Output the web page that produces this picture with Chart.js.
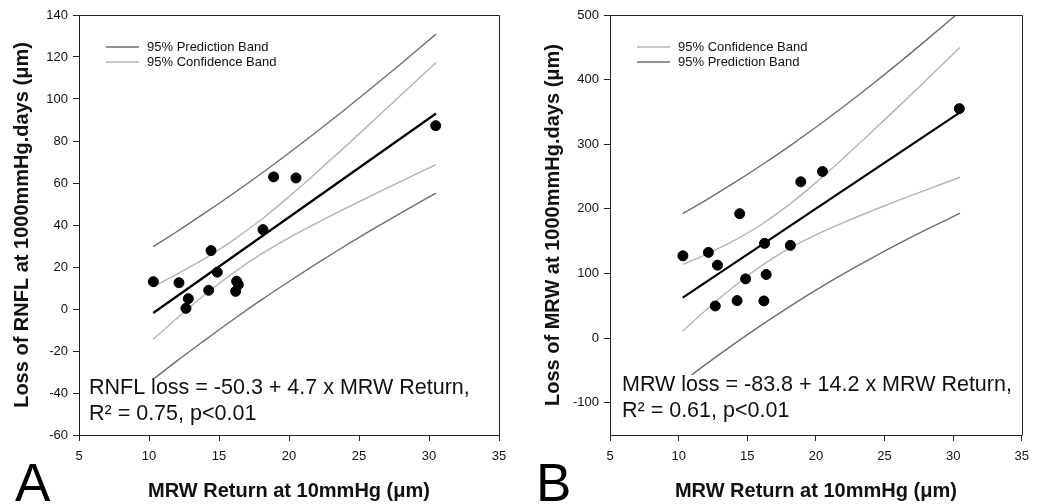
<!DOCTYPE html>
<html>
<head>
<meta charset="utf-8">
<title>RNFL and MRW loss vs MRW return</title>
<script src="https://cdn.jsdelivr.net/npm/chart.js@4/dist/chart.umd.min.js"></script>
<style>
  html, body { margin: 0; padding: 0; background: #fff; overflow: hidden; }
  #wrap { position: relative; width: 1037px; height: 504px; }
  #wrap canvas { position: absolute; left: 0; top: 0; }
</style>
</head>
<body>
<div id="wrap">
  <canvas id="chartA" width="1037" height="504"></canvas>
  <canvas id="chartB" width="1037" height="504"></canvas>
</div>
<script>
// panel A: RNFL loss against MRW return
const mrwReturnA = [10.31, 12.14, 12.81, 12.64, 14.43, 14.88, 14.26, 16.26, 16.38, 16.19, 18.14, 18.9, 20.5, 30.48];
const rnflLoss = [13.0, 12.5, 4.9, 0.3, 27.8, 17.5, 8.9, 13.2, 11.6, 8.4, 37.8, 62.9, 62.4, 87.3];

// panel B: MRW loss against MRW return
const mrwReturnB = [10.31, 12.17, 12.83, 12.67, 14.45, 14.88, 14.26, 16.26, 16.38, 16.21, 18.14, 18.9, 20.48, 30.45];
const mrwLoss = [127.3, 132.6, 112.9, 49.7, 192.5, 91.6, 58.0, 146.6, 98.4, 57.5, 143.5, 241.8, 257.8, 355.1];

// regression lines (end points)
const fitX = [10.3, 30.5];
const rnflFit = [-1.9, 93.1];
const mrwFit = [62.5, 349.3];

// 95% bands, read at these x positions
const bandX = [10.3, 12, 14, 16, 18, 20, 22, 24, 26, 28, 30.5];
const rnflConfUpper = [10.6, 16.6, 24.1, 32.7, 42.5, 53.5, 65.2, 77.2, 89.5, 101.9, 117.4];
const rnflConfLower = [-14.4, -4.4, 6.9, 17.1, 26.1, 33.9, 41.0, 47.8, 54.3, 60.8, 68.7];
const rnflPredUpper = [29.7, 36.9, 45.8, 54.9, 64.4, 74.3, 84.5, 95.0, 105.8, 116.8, 130.9];
const rnflPredLower = [-33.5, -24.7, -14.8, -5.1, 4.2, 13.1, 21.7, 30.0, 38.0, 45.8, 55.2];
const mrwConfUpper = [113.9, 129.7, 150.5, 175.4, 205.7, 240.6, 278.4, 317.7, 357.8, 398.5, 449.7];
const mrwConfLower = [11.0, 43.5, 79.5, 111.4, 137.9, 159.8, 178.8, 196.3, 213.0, 229.1, 248.9];
const mrwPredUpper = [192.6, 213.6, 239.7, 267.1, 296.0, 326.3, 358.0, 391.0, 425.1, 460.3, 505.4];
const mrwPredLower = [-67.6, -40.4, -9.7, 19.7, 47.6, 74.1, 99.2, 123.0, 145.7, 167.3, 193.2];

// axis ticks
const xTicks = [5, 10, 15, 20, 25, 30, 35];
const yTicksA = [-60, -40, -20, 0, 20, 40, 60, 80, 100, 120, 140];
const yTicksB = [-100, 0, 100, 200, 300, 400, 500];

const FONT = "'Liberation Sans', Arial, Helvetica, sans-serif";
const INK = '#222';
const PRED_COLOR = '#6e6e6e';
const CONF_COLOR = '#b4b4b4';

function pts(xs, ys) {
  return xs.map(function (x, i) { return { x: x, y: ys[i] }; });
}

function curve(xs, ys, color, width) {
  return {
    data: pts(xs, ys),
    showLine: true,
    borderColor: color,
    borderWidth: width,
    pointRadius: 0,
    cubicInterpolationMode: 'monotone',
    fill: false
  };
}

/*
 * Decorations SigmaPlot puts on each panel: box frame, inline legend,
 * regression equation on a white patch, and the panel letter.
 */
const panelDecor = {
  id: 'panelDecor',
  afterDatasetsDraw: function (chart, args, opts) {
    const ctx = chart.ctx;
    const area = chart.chartArea;
    ctx.save();

    // equation text with white background hiding the band lines
    ctx.font = '21.5px ' + FONT;
    const w = Math.max.apply(null, opts.eq.map(function (t) { return ctx.measureText(t).width; }));
    ctx.fillStyle = '#fff';
    ctx.fillRect(opts.eqX - 3, opts.eqY - 16, w + 6, opts.eqGap + 22);
    ctx.fillStyle = '#111';
    ctx.textBaseline = 'alphabetic';
    ctx.textAlign = 'left';
    opts.eq.forEach(function (t, i) {
      ctx.fillText(t, opts.eqX, opts.eqY + i * opts.eqGap);
    });

    // legend
    ctx.font = '13px ' + FONT;
    ctx.textBaseline = 'middle';
    opts.legend.forEach(function (item, i) {
      const y = opts.legendY + i * 15;
      ctx.strokeStyle = item[1];
      ctx.lineWidth = 1.5;
      ctx.beginPath();
      ctx.moveTo(opts.legendX, y);
      ctx.lineTo(opts.legendX + 33, y);
      ctx.stroke();
      ctx.fillStyle = '#111';
      ctx.fillText(item[0], opts.legendX + 41, y + 0.5);
    });

    // frame top and right
    ctx.strokeStyle = INK;
    ctx.lineWidth = 1;
    ctx.beginPath();
    ctx.moveTo(Math.round(area.left) + 0.5, Math.round(area.top) + 0.5);
    ctx.lineTo(Math.round(area.right) + 0.5, Math.round(area.top) + 0.5);
    ctx.lineTo(Math.round(area.right) + 0.5, Math.round(area.bottom) + 0.5);
    ctx.stroke();

    // panel letter
    ctx.font = '53px ' + FONT;
    ctx.textBaseline = 'alphabetic';
    ctx.fillStyle = '#000';
    ctx.fillText(opts.letter, opts.letterX, 501);
    ctx.restore();
  }
};

function makePanel(canvasId, p) {
  return new Chart(document.getElementById(canvasId), {
    type: 'scatter',
    data: {
      datasets: [
        {
          data: pts(p.xs, p.ys),
          backgroundColor: '#000',
          borderColor: '#000',
          pointRadius: 5,
          pointHoverRadius: 5,
          showLine: false
        },
        curve(fitX, p.fit, '#000', 2.2),
        curve(bandX, p.confUpper, CONF_COLOR, 1.4),
        curve(bandX, p.confLower, CONF_COLOR, 1.4),
        curve(bandX, p.predUpper, PRED_COLOR, 1.4),
        curve(bandX, p.predLower, PRED_COLOR, 1.4)
      ]
    },
    options: {
      responsive: false,
      animation: false,
      devicePixelRatio: 1,
      events: [],
      layout: { padding: p.padding },
      plugins: {
        legend: { display: false },
        tooltip: { enabled: false },
        panelDecor: p.decor
      },
      scales: {
        x: {
          type: 'linear',
          min: 5,
          max: 35,
          afterBuildTicks: function (s) { s.ticks = xTicks.map(function (v) { return { value: v }; }); },
          afterFit: function (s) { s.height = 69; },
          grid: { drawOnChartArea: false, color: INK, tickLength: 6 },
          border: { color: INK, width: 1 },
          ticks: { color: '#111', font: { size: 13, family: FONT }, padding: 8, maxRotation: 0, autoSkip: false },
          title: {
            display: true,
            text: 'MRW Return at 10mmHg (μm)',
            color: '#111',
            font: { size: 20, weight: 'bold', family: FONT },
            padding: { top: 0, bottom: 1 }
          }
        },
        y: {
          type: 'linear',
          min: p.yMin,
          max: p.yMax,
          afterBuildTicks: function (s) { s.ticks = p.yTicks.map(function (v) { return { value: v }; }); },
          afterFit: function (s) { s.width = p.yWidth; },
          grid: { drawOnChartArea: false, color: INK, tickLength: 6 },
          border: { color: INK, width: 1 },
          ticks: { color: '#111', font: { size: 13, family: FONT }, padding: 5, autoSkip: false },
          title: {
            display: true,
            text: p.yTitle,
            color: '#111',
            font: { size: 20, weight: 'bold', family: FONT },
            padding: { top: p.yTitlePad, bottom: 0 }
          }
        }
      }
    },
    plugins: [panelDecor]
  });
}

makePanel('chartA', {
  xs: mrwReturnA, ys: rnflLoss, fit: rnflFit,
  confUpper: rnflConfUpper, confLower: rnflConfLower,
  predUpper: rnflPredUpper, predLower: rnflPredLower,
  yMin: -60, yMax: 140, yTicks: yTicksA,
  yTitle: 'Loss of RNFL at 1000mmHg.days (μm)',
  yWidth: 79, yTitlePad: 10,
  padding: { left: 0, top: 15, right: 538, bottom: 0 },
  decor: {
    letter: 'A', letterX: 15,
    legend: [['95% Prediction Band', PRED_COLOR], ['95% Confidence Band', CONF_COLOR]],
    legendX: 106, legendY: 47,
    eq: ['RNFL loss = -50.3 + 4.7 x MRW Return,', 'R² = 0.75, p<0.01'],
    eqX: 89, eqY: 394, eqGap: 26
  }
});

makePanel('chartB', {
  xs: mrwReturnB, ys: mrwLoss, fit: mrwFit,
  confUpper: mrwConfUpper, confLower: mrwConfLower,
  predUpper: mrwPredUpper, predLower: mrwPredLower,
  yMin: -150, yMax: 500, yTicks: yTicksB,
  yTitle: 'Loss of MRW at 1000mmHg.days (μm)',
  yWidth: 100, yTitlePad: 31,
  padding: { left: 510, top: 15, right: 7, bottom: 0 },
  decor: {
    letter: 'B', letterX: 536,
    legend: [['95% Confidence Band', CONF_COLOR], ['95% Prediction Band', PRED_COLOR]],
    legendX: 637, legendY: 47,
    eq: ['MRW loss = -83.8 + 14.2 x MRW Return,', 'R² = 0.61, p<0.01'],
    eqX: 622, eqY: 391, eqGap: 26
  }
});
</script>
</body>
</html>
